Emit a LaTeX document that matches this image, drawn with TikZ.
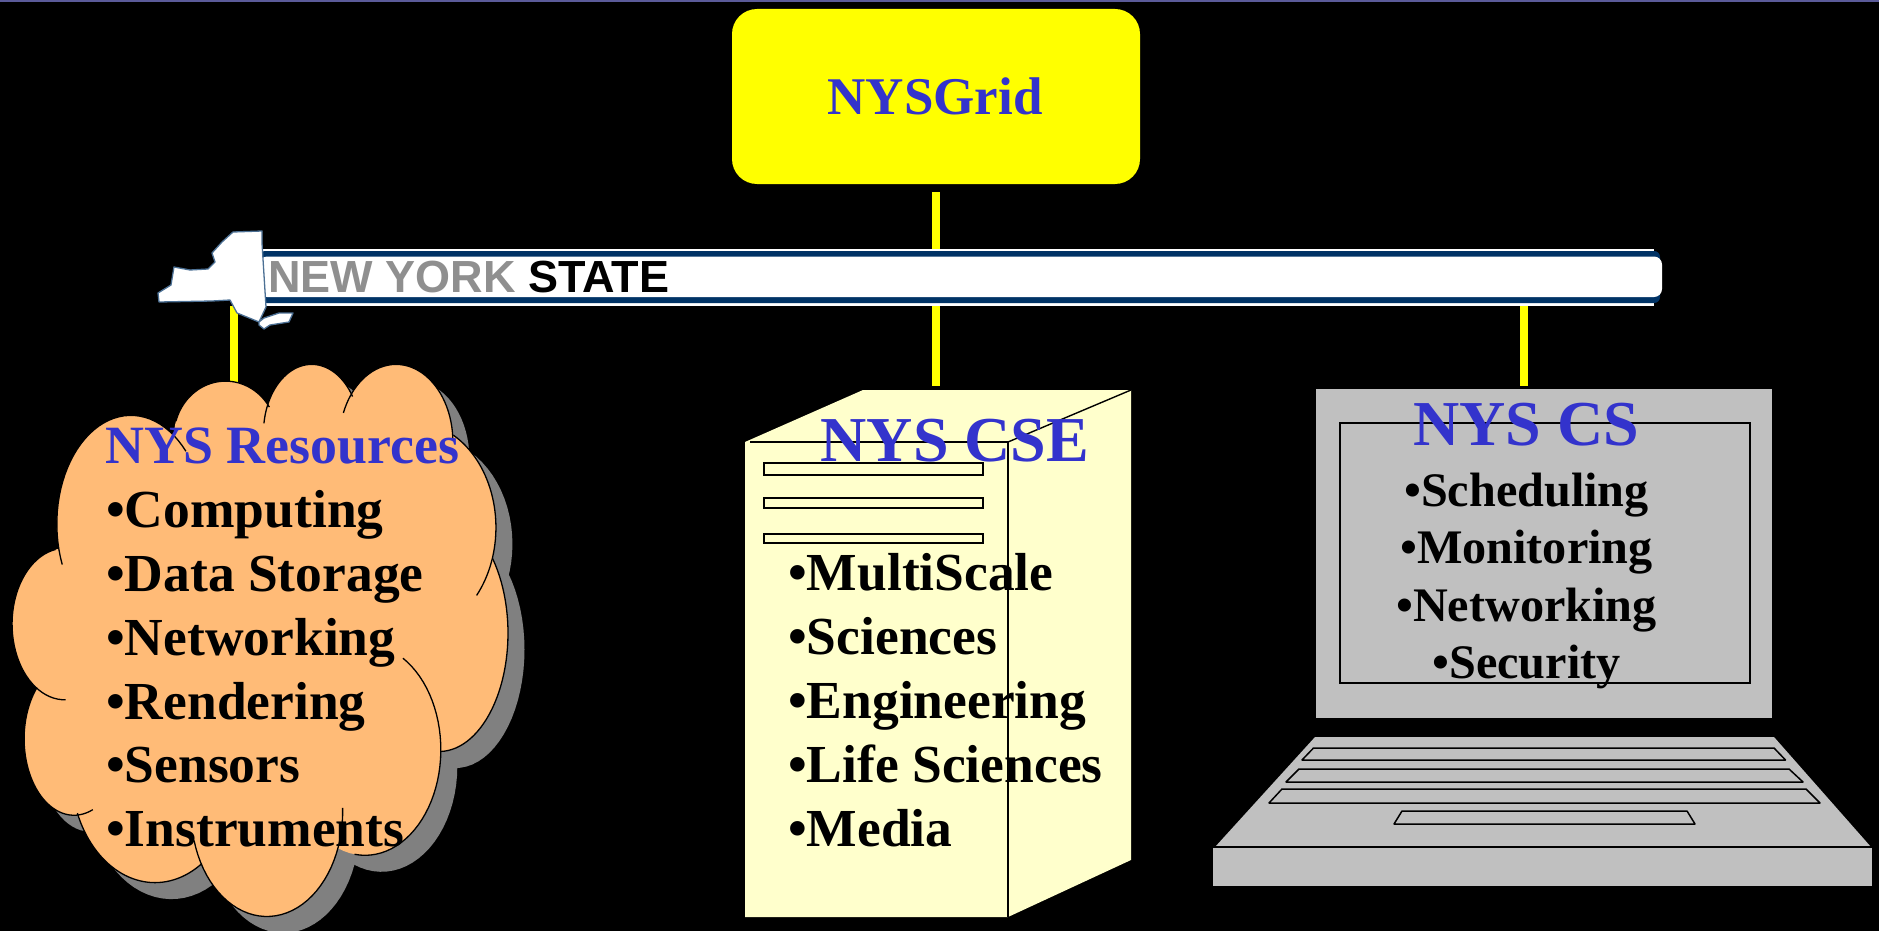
\documentclass[tikz,border=0pt]{standalone}
\usepackage{fontspec}
\setmainfont{Liberation Serif}
\newfontfamily\logofont{Liberation Sans}
\definecolor{headblue}{HTML}{3333CC}
\definecolor{cloudfill}{HTML}{FFBB77}
\definecolor{shadowgrey}{HTML}{808080}
\definecolor{paleyellow}{HTML}{FFFFCC}
\definecolor{lapgrey}{HTML}{C0C0C0}
\definecolor{navyband}{HTML}{003366}
\definecolor{logogrey}{HTML}{8F8F8F}
\definecolor{pureyellow}{HTML}{FFFF00}
\definecolor{topline}{HTML}{5B5B99}
\newcommand{\lobefill}[5]{\fill[#5] plot[domain=0:360,samples=72] ({#1+#3*cos(\x)},{#2+#4*sin(\x)}) -- cycle;}
\newcommand{\lobearc}[6]{\draw[line width=1.3pt] plot[domain=#5:#6,samples=40] ({#1+#3*cos(\x)},{#2+#4*sin(\x)});}
\newcommand{\allfill}[1]{%
  \lobefill{720}{760}{560}{560}{#1}
  \lobefill{380}{450}{215}{298}{#1}
  \lobefill{655}{210}{150}{152}{#1}
  \lobefill{905}{200}{140}{188}{#1}
  \lobefill{1150}{225}{165}{213}{#1}
  \lobefill{1200}{460}{240}{290}{#1}
  \lobefill{1275}{750}{200}{325}{#1}
  \lobefill{1060}{1070}{220}{290}{#1}
  \lobefill{775}{1240}{220}{288}{#1}
  \lobefill{450}{1130}{243}{305}{#1}
  \lobefill{215}{1040}{145}{210}{#1}
  \lobefill{188}{725}{153}{208}{#1}
}
\tikzset{
  link/.style={draw=pureyellow,line width=8pt},
  heading/.style={inner sep=0pt,text=headblue,font=\bfseries\fontsize{53.9}{53.9}\selectfont},
  bighead/.style={inner sep=0pt,text=headblue,font=\bfseries\fontsize{64}{64}\selectfont},
  listitem/.style={inner sep=0pt,anchor=base west,font=\bfseries\fontsize{53.5}{53.5}\selectfont},
  lapitem/.style={inner sep=0pt,anchor=base,font=\bfseries\fontsize{48.2}{48.2}\selectfont},
  boxline/.style={draw=black,line width=1.4pt},
  bar/.style={draw=black,line width=1.6pt,fill=paleyellow},
  keyrow/.style={draw=black,line width=1.5pt,line join=round},
}
\begin{document}
\begin{tikzpicture}[x=1pt,y=-1pt]
\useasboundingbox (0,0) rectangle (1879,931);
\clip (0,0) rectangle (1879,931);
\fill[black] (0,0) rectangle (1879,931);
\fill[topline] (0,0) rectangle (1879,2);
% anchors
\node[rectangle,rounded corners=25pt,fill=pureyellow,minimum width=408pt,minimum height=175pt,inner sep=0pt,text=headblue,font=\bfseries\fontsize{53}{53}\selectfont] (nysgrid) at (936,96.5) {\hspace{-2pt}NYSGrid};
\coordinate (csetop) at (936,386);
\coordinate (cstop) at (1524,386);
\coordinate (restop) at (234,392);
\node[rectangle,minimum width=1395pt,minimum height=57pt,inner sep=0pt] (banner) at (956.5,277.5) {};
% connectors
\draw[link,shorten <=8pt] (nysgrid.south) -- (csetop);
\draw[link] (banner.south -| cstop) -- (cstop);
\draw[link] (banner.south -| restop) -- (restop);
% banner
\fill[white] (259,249) rectangle (1654,306);
\fill[navyband,rounded corners=6pt] (259,251) rectangle (1660,303);
\fill[white,rounded corners=8pt] (259,256.5) rectangle (1662,297);
\node[inner sep=0pt,anchor=base west,font=\logofont\bfseries\fontsize{45}{45}\selectfont] (logotext) at (268,292) {\textcolor{logogrey}{NEW YORK} \textcolor{black}{STATE}};
\draw[fill=white,draw=navyband!70!white,line width=1.3pt,line join=round]
 (262,231) -- (233,232) -- (222,242) -- (212,253) -- (215,262) -- (208,269) -- (190,270) -- (174,267) -- (171,285) -- (158,293) -- (159,302) -- (212,301) -- (230,300) -- (237,313) -- (259,322) -- (264,318) -- (279,313) -- (293,313) -- (289,322) -- (270,325) -- (264,329) -- (259,325) -- (259,322) -- (266,307) -- (262,243) -- cycle;
% cloud
\begin{scope}[x=0.3444pt,y=-0.3642pt,shift={(0pt,-360pt)}]
 \begin{scope}[shift={(16.5pt,-16.5pt)}]
  \allfill{shadowgrey}
 \end{scope}
 \allfill{cloudfill}
 \lobearc{380}{450}{215}{298}{158}{318}
 \lobearc{655}{210}{150}{152}{196}{328}
 \lobearc{905}{200}{140}{188}{188}{328}
 \lobearc{1150}{225}{165}{213}{202}{357}
 \lobearc{1200}{460}{240}{290}{299}{400}
 \lobearc{1275}{750}{200}{325}{321}{449}
 \lobearc{1060}{1070}{220}{290}{300}{458}
 \lobearc{775}{1240}{220}{288}{-2}{164}
 \lobearc{450}{1130}{243}{305}{56}{158}
 \lobearc{215}{1040}{145}{210}{68}{222}
 \lobearc{188}{725}{153}{208}{89}{260}
\end{scope}
\node[heading,anchor=base west] (reshead) at (105.5,463) {NYS Resources};
\node[listitem] (r1) at (106,527) {•Computing};
\node[listitem] (r2) at (106,591) {•Data Storage};
\node[listitem] (r3) at (106,655) {•Networking};
\node[listitem] (r4) at (106,719) {•Rendering};
\node[listitem] (r5) at (106,782) {•Sensors};
\node[listitem] (r6) at (106,846) {•Instruments};
% server
\fill[paleyellow] (745,442) -- (863,390) -- (1131,390) -- (1131,860) -- (1008,917) -- (745,917) -- cycle;
\draw[boxline] (750,442) -- (1008,442) -- (1008,917);
\draw[boxline] (1008,442) -- (1131,390);
\draw[bar] (764,463) rectangle (983,475);
\draw[bar] (764,498) rectangle (983,508);
\draw[bar] (764,534) rectangle (983,543);
\node[bighead,anchor=base west] (csehead) at (820.5,461) {NYS CSE};
\node[listitem] (c1) at (788,590) {•MultiScale};
\node[listitem] (c2) at (788,654) {•Sciences};
\node[listitem] (c3) at (788,718) {•Engineering};
\node[listitem] (c4) at (788,782) {•Life Sciences};
\node[listitem] (c5) at (788,846) {•Media};
% laptop
\fill[lapgrey] (1316,389) rectangle (1772,718);
\draw[boxline] (1340,423) rectangle (1750,683);
\fill[lapgrey] (1315,737) -- (1774,737) -- (1871,847) -- (1215,847) -- cycle;
\fill[lapgrey] (1213,847) rectangle (1872,886);
\draw[boxline] (1213,847) -- (1872,847);
\draw[keyrow] (1313.5,748) -- (1774,748) -- (1785.5,760) -- (1302,760) -- cycle;
\draw[keyrow] (1299,769) -- (1789,769) -- (1803,782) -- (1286,782) -- cycle;
\draw[keyrow] (1282,789) -- (1806,789) -- (1820,803) -- (1269,803) -- cycle;
\draw[keyrow] (1402,811) -- (1687,811) -- (1695,824) -- (1394,824) -- cycle;
\node[bighead,anchor=base] (cshead) at (1526,445) {NYS CS};
\node[lapitem] (l1) at (1526.5,506) {•Scheduling};
\node[lapitem] (l2) at (1526.5,563) {•Monitoring};
\node[lapitem] (l3) at (1526.5,621) {•Networking};
\node[lapitem] (l4) at (1526.5,678) {•Security};
\end{tikzpicture}
\end{document}
